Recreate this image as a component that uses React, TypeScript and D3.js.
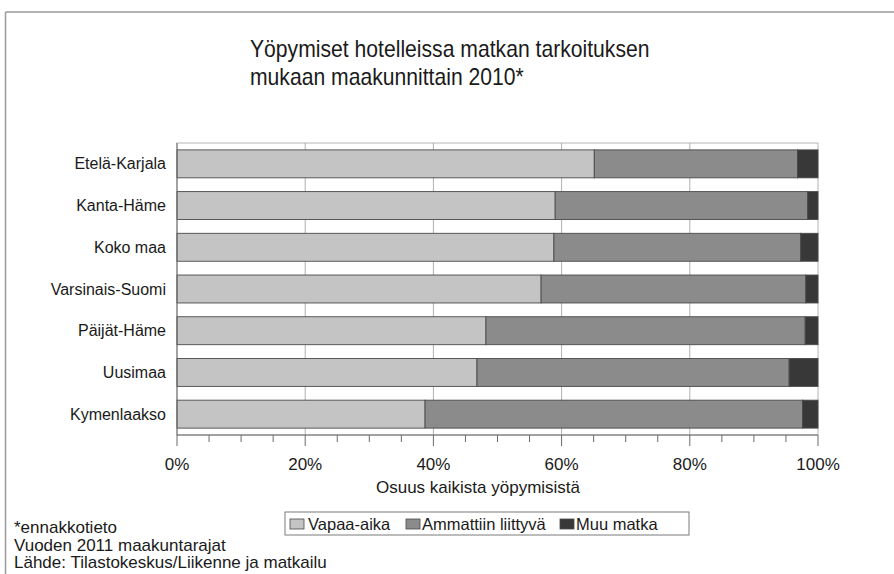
import React from "react";
import * as d3 from "d3";

const categories = ["Etelä-Karjala", "Kanta-Häme", "Koko maa", "Varsinais-Suomi", "Päijät-Häme", "Uusimaa", "Kymenlaakso"];
const vapaaAika = [65.1, 59.0, 58.8, 56.8, 48.2, 46.8, 38.7];
const ammattiin = [31.7, 39.4, 38.5, 41.3, 49.8, 48.7, 58.9];
const muuMatka = [3.2, 1.6, 2.7, 1.9, 2.0, 4.5, 2.4];
const seriesNames = ["Vapaa-aika", "Ammattiin liittyvä", "Muu matka"];
const seriesColors = ["#c4c4c4", "#8b8b8b", "#383838"];
const tickValues = [0, 20, 40, 60, 80, 100];
const titleLines = ["Yöpymiset hotelleissa matkan tarkoituksen", "mukaan maakunnittain 2010*"];
const axisTitle = "Osuus kaikista yöpymisistä";
const footnotes = ["*ennakkotieto", "Vuoden 2011 maakuntarajat", "Lähde: Tilastokeskus/Liikenne ja matkailu"];

const W = 894;
const H = 574;
const FONT = "'Liberation Sans', Arial, sans-serif";

export default function App() {
  const left = 177, right = 818, top = 143, bottom = 435;
  const x = d3.scaleLinear().domain([0, 100]).range([left, right]);
  const y = d3.scaleBand().domain(categories).range([top, bottom]).paddingInner(0.33).paddingOuter(0.165);

  const rows = categories.map((c, i) => ({ cat: c, s0: vapaaAika[i], s1: ammattiin[i], s2: muuMatka[i] }));
  const stacked = d3.stack<any>().keys(["s0", "s1", "s2"])(rows);

  const minorTicks = d3.range(0, 101, 5);

  const legendX = 285, legendY = 512, legendW = 404, legendH = 23;
  const legendItems = [
    { sx: 290, tx: 308 },
    { sx: 406, tx: 422 },
    { sx: 560, tx: 576 },
  ];

  return (
    <svg width={W} height={H} style={{ position: "absolute", left: 0, top: 0, background: "#fff" }} fontFamily={FONT}>
      <rect x={0} y={0} width={W} height={H} fill="#fff" />
      {/* outer frame */}
      <line x1={5.5} y1={12} x2={W} y2={12} stroke="#9a9a9a" strokeWidth={1.5} />
      <line x1={5.5} y1={12} x2={5.5} y2={H} stroke="#9a9a9a" strokeWidth={1.5} />

      {/* title */}
      {titleLines.map((t, i) => (
        <text key={i} transform={`translate(250,${57 + i * 28}) scale(0.92,1)`} fontSize={23} fill="#1a1a1a">{t}</text>
      ))}

      {/* plot border */}
      <rect x={left} y={top} width={right - left} height={bottom - top} fill="none" stroke="#b5b5b5" strokeWidth={1} />

      {/* gridlines */}
      {tickValues.slice(1, -1).map((t) => (
        <line key={t} x1={x(t)} x2={x(t)} y1={top} y2={bottom} stroke="#b0b0b0" strokeWidth={1} />
      ))}

      {/* bars */}
      {stacked.map((layer, li) => (
        <g key={li}>
          {layer.map((d, i) => (
            <rect
              key={i}
              x={x(d[0])}
              y={y(categories[i])}
              width={x(d[1]) - x(d[0])}
              height={y.bandwidth()}
              fill={seriesColors[li]}
              stroke="#4a4a4a"
              strokeWidth={0.9}
            />
          ))}
        </g>
      ))}

      {/* axes */}
      <line x1={left} x2={left} y1={top} y2={bottom} stroke="#6a6a6a" strokeWidth={1} />
      <line x1={left} x2={right} y1={bottom} y2={bottom} stroke="#6a6a6a" strokeWidth={1} />
      {minorTicks.map((t) => (
        <line
          key={t}
          x1={x(t)}
          x2={x(t)}
          y1={bottom}
          y2={t % 20 === 0 ? bottom + 11 : bottom + 7}
          stroke="#6a6a6a"
          strokeWidth={1}
        />
      ))}
      {tickValues.map((t) => (
        <text key={t} x={x(t)} y={470} fontSize={17} textAnchor="middle" fill="#1a1a1a">{t}%</text>
      ))}
      <text x={478} y={493} fontSize={17} textAnchor="middle" fill="#1a1a1a">{axisTitle}</text>

      {/* category labels */}
      {categories.map((c) => (
        <text key={c} x={166} y={(y(c) as number) + y.bandwidth() / 2 + 5.5} fontSize={16} textAnchor="end" fill="#1a1a1a">{c}</text>
      ))}

      {/* legend */}
      <rect x={legendX} y={legendY} width={legendW} height={legendH} fill="#fff" stroke="#7a7a7a" strokeWidth={1} />
      {seriesNames.map((n, i) => (
        <g key={n}>
          <rect x={legendItems[i].sx} y={519} width={14} height={10} fill={seriesColors[i]} stroke="#4a4a4a" strokeWidth={0.8} />
          <text x={legendItems[i].tx} y={530} fontSize={16.5} fill="#1a1a1a">{n}</text>
        </g>
      ))}

      {/* footnotes */}
      {footnotes.map((f, i) => (
        <text key={i} x={14} y={533 + i * 17.5} fontSize={17} fill="#1a1a1a">{f}</text>
      ))}
    </svg>
  );
}
